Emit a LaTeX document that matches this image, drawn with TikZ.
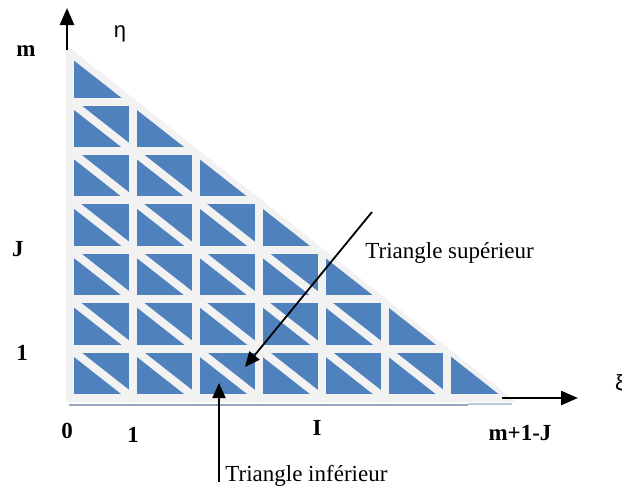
\documentclass[tikz,border=0pt]{standalone}
\usepackage{fontspec}
\setmainfont{Liberation Serif}
\newfontfamily\greekfont{Liberation Sans}
\usetikzlibrary{arrows.meta}

\definecolor{cellblue}{HTML}{4F81BD}
\definecolor{gapgray}{HTML}{F2F2F2}
\definecolor{shadowgray}{HTML}{97A6BC}
\definecolor{shadowlight}{HTML}{BFC8D6}

\tikzset{
  axislabel/.style={font=\fontsize{11.5}{13}\selectfont\bfseries, inner sep=0pt, anchor=base},
  greeklabel/.style={font=\greekfont\fontsize{11}{13}\selectfont, inner sep=0pt, anchor=base},
  calltext/.style={font=\fontsize{11.5}{13}\selectfont, inner sep=0pt, anchor=base west},
  gapline/.style={gapgray, line width=4pt, line cap=rect},
  axisarrow/.style={line width=1.25pt, -{Triangle[length=8.5pt,width=7pt]}},
  callarrow/.style={line width=0.9pt, -{Triangle[length=7.5pt,width=6.5pt]}}
}

\begin{document}
\begin{tikzpicture}[x=0.5pt, y=-0.5pt]
\useasboundingbox (0,0) rectangle (622,493);

% Shadow under the base
\draw[shadowgray, line width=1.25pt] (69,405) -- (468,405);
\draw[shadowlight, line width=0.75pt] (468,404) -- (512,404);

% Outer triangle
\fill[gapgray] (66,45) -- (66,402) -- (516,402) -- cycle;

% Cells
\begin{scope}
\clip (66,45) -- (66,402) -- (516,402) -- cycle;
\fill[cellblue] (70,52) -- (70,398) -- (510,398) -- cycle;
% vertical gaps
\foreach \i in {0,...,6}
  \draw[gapline] ({70+62.9*\i},398) -- ({70+62.9*\i},{398-49.4*(7-\i)});
% horizontal gaps
\foreach \j in {0,...,6}
  \draw[gapline] (70,{398-49.4*\j}) -- ({70+62.9*(7-\j)},{398-49.4*\j});
% diagonal gaps
\foreach \k in {1,...,7}
  \draw[gapline] (70,{398-49.4*\k}) -- ({70+62.9*\k},398);
\end{scope}

% Axes
\coordinate (yfoot) at (67,50);
\coordinate (ytip) at (67,8);
\coordinate (xfoot) at (502,398);
\coordinate (xtip) at (578,398);
\draw[axisarrow] (yfoot) -- (ytip);
\draw[axisarrow] (xfoot) -- (xtip);

% Axis labels
\node[axislabel] (labM) at (26,56) {m};
\node[greeklabel] (labEta) at (120,37) {η};
\node[axislabel] (labJ) at (18,256) {J};
\node[axislabel] (labOneY) at (22,360) {1};
\node[axislabel] (labZero) at (67,438) {0};
\node[axislabel] (labOneX) at (133,442) {1};
\node[axislabel] (labI) at (317,435) {I};
\node[axislabel] (labMJ) at (520,440) {m+1-J};
\node[greeklabel] (labXi) at (620,390) {ξ};

% Callouts
\node[calltext] (supText) at (365,258) {Triangle supérieur};
\node[calltext] (infText) at (225,481) {Triangle inférieur};
\coordinate (supFrom) at (372,212);
\coordinate (supTo) at (245,367);
\coordinate (infFrom) at (219,482);
\coordinate (infTo) at (219,383);
\draw[callarrow] (supFrom) -- (supTo);
\draw[callarrow] (infFrom) -- (infTo);
\end{tikzpicture}
\end{document}
